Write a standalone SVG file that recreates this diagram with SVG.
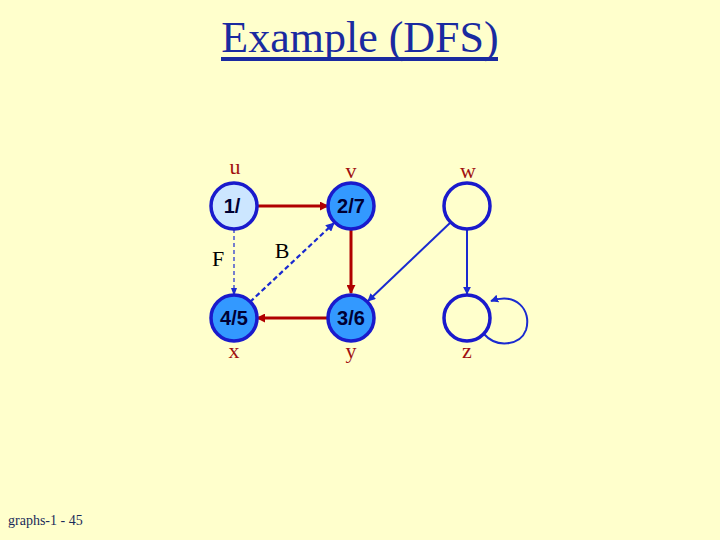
<svg xmlns="http://www.w3.org/2000/svg" width="720" height="540" viewBox="0 0 720 540">
<style>
.node{stroke:#1a1acc;stroke-width:3.5}
.gray{fill:#cce6ff}
.dark{fill:#3399ff}
.white{fill:#ffffcc}
.nt{font-family:"Liberation Sans",Arial,sans-serif;font-size:20px;font-weight:bold;fill:#000033;text-anchor:middle}
.lbl{font-family:"Liberation Serif","Times New Roman",serif;font-size:22px;fill:#a01010;text-anchor:middle}
.el{font-family:"Liberation Serif","Times New Roman",serif;font-size:22px;fill:#000;text-anchor:middle}
.tree{stroke:#b00000;stroke-width:3;fill:none;marker-end:url(#ar)}
.blue{stroke:#1a2ad0;stroke-width:2;fill:none;marker-end:url(#ab)}
</style>
<defs>
<marker id="ar" viewBox="0 0 10 10" refX="9" refY="5" markerWidth="3" markerHeight="3" orient="auto"><path d="M0,0L10,5L0,10z" fill="#b00000"/></marker>
<marker id="ab" viewBox="0 0 10 10" refX="9" refY="5" markerWidth="4" markerHeight="4" orient="auto"><path d="M0,0L10,5L0,10z" fill="#1a2ad0"/></marker>
</defs>
<rect width="720" height="540" fill="#ffffcc"/>
<text x="360" y="52" font-family="Liberation Serif,'Times New Roman',serif" font-size="44" fill="#1a2aa0" text-anchor="middle">Example (DFS)</text>
<rect x="221" y="57" width="277" height="4" fill="#1a2aa0"/>
<g id="edges">
<line class="tree" x1="257" y1="206" x2="328" y2="206"/>
<line class="tree" x1="351" y1="229" x2="351" y2="293"/>
<line class="tree" x1="328" y1="318" x2="257" y2="318"/>
<line class="blue" x1="451" y1="222" x2="368" y2="301"/>
<line class="blue" x1="467" y1="229" x2="467" y2="294"/>
<path class="blue" d="M484,334 C496,348 520,346 526,330 C532,310 516,292 491,301"/>
<line x1="234" y1="229" x2="234" y2="293" stroke="#1a2ad0" stroke-width="1.2" stroke-dasharray="4,3"/>
<path d="M231,288L234,296L237,288z" fill="#1a2ad0"/>
<line x1="250" y1="302" x2="334" y2="223" stroke="#1a2ad0" stroke-width="2.2" stroke-dasharray="5,3" marker-end="url(#ab)"/>
</g>
<g id="u"><circle class="node gray" cx="234" cy="206" r="23"/><text class="nt" x="232" y="213">1/</text><text class="lbl" x="235" y="174">u</text></g>
<g id="v"><circle class="node dark" cx="351" cy="206" r="23"/><text class="nt" x="351" y="213">2/7</text><text class="lbl" x="351" y="178">v</text></g>
<g id="w"><circle class="node white" cx="467" cy="206" r="23"/><text class="lbl" x="468" y="178">w</text></g>
<g id="x"><circle class="node dark" cx="234" cy="318" r="23"/><text class="nt" x="234" y="325">4/5</text><text class="lbl" x="234" y="358">x</text></g>
<g id="y"><circle class="node dark" cx="351" cy="318" r="23"/><text class="nt" x="351" y="325">3/6</text><text class="lbl" x="351" y="358">y</text></g>
<g id="z"><circle class="node white" cx="467" cy="318" r="23"/><text class="lbl" x="467" y="358">z</text></g>
<text class="el" x="218" y="266">F</text>
<text class="el" x="282" y="258">B</text>
<text x="8" y="525" font-family="Liberation Serif,'Times New Roman',serif" font-size="14" fill="#1a2a5a">graphs-1 - 45</text>
</svg>
